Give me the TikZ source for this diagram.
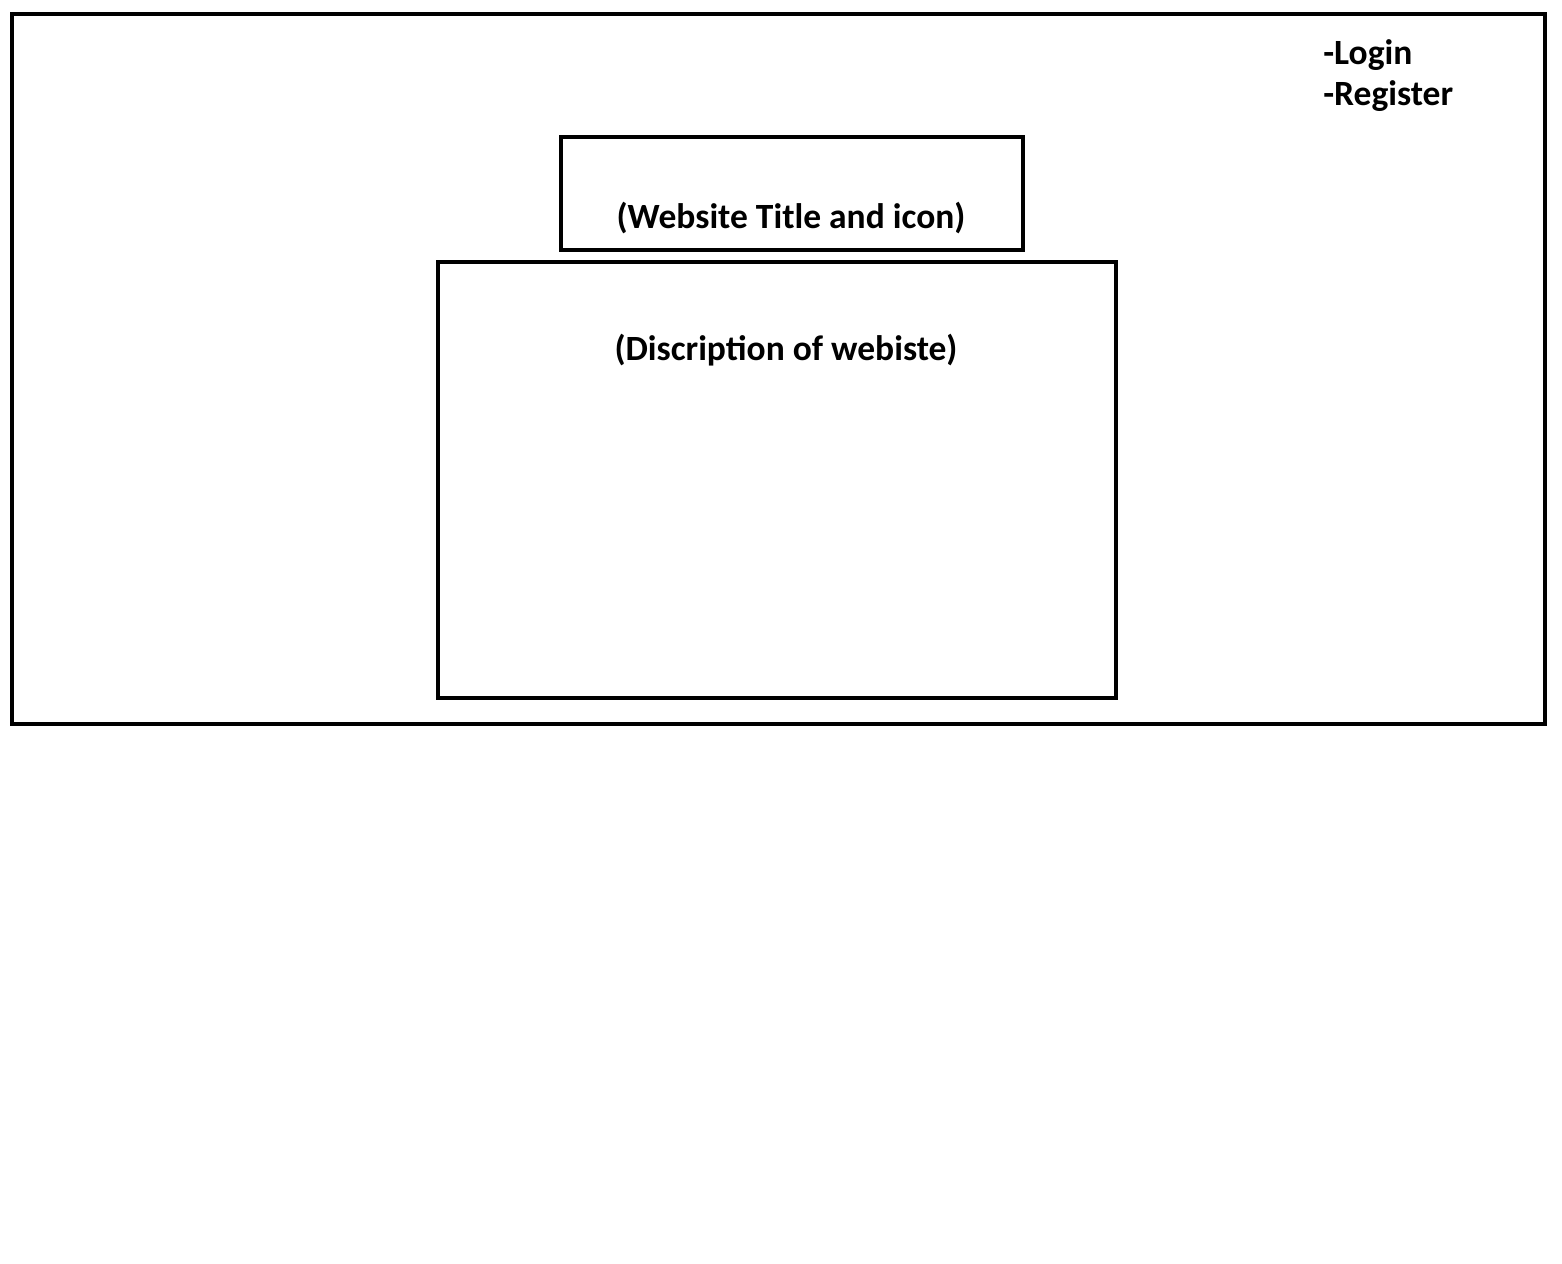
\documentclass[tikz,border=0pt]{standalone}
\usepackage{fontspec}
\setmainfont{Carlito}
\usepackage{tikz}

\begin{document}
\begin{tikzpicture}[x=0.02cm,y=-0.02cm,
    box/.style={draw=black,line width=2.3pt},
    lbl/.style={font=\fontsize{20.2}{24}\selectfont\bfseries,inner sep=0pt}]
    % Page size
    \useasboundingbox (0,0) rectangle (1562,1264);
    % Outer page frame
    \draw[box] (12,14) rectangle (1545,724);
    % Title box and description box
    \draw[box] (561,137) rectangle (1023,250);
    \draw[box] (438,262) rectangle (1116,698);
    % Texts
    \node[lbl,anchor=base] (title) at (791,228) {(Website Title and icon)};
    \node[lbl,anchor=base] (desc) at (786,360) {(Discription of webiste)};
    % Links in the corner
    \node[lbl,anchor=base west] (login) at (1323,65) {-Login};
    \node[lbl,anchor=base west] (register) at (1323,106) {-Register};
  \end{tikzpicture}
\end{document}
